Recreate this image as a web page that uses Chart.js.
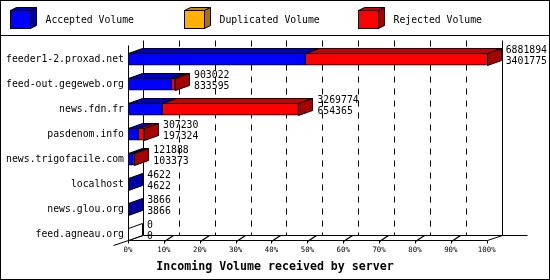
<!DOCTYPE html>
<html><head><meta charset="utf-8">
<script src="https://cdn.jsdelivr.net/npm/chart.js@4/dist/chart.umd.min.js"></script>
<style>html,body{margin:0;padding:0;background:#fff}canvas{display:block}</style>
</head><body>
<canvas id="c" width="550" height="280"></canvas>
<script>
// ---- data ----
const servers = ['feeder1-2.proxad.net','feed-out.gegeweb.org','news.fdn.fr','pasdenom.info','news.trigofacile.com','localhost','news.glou.org','feed.agneau.org'];
const totalVolume      = [6881894, 903022, 3269774, 307230, 121888, 4622, 3866, 0];
const acceptedVolume   = [3401775, 833595,  654365, 197324, 103373, 4622, 3866, 0];
const duplicatedVolume = [0, 0, 0, 0, 0, 0, 0, 0];
const seriesNames = ['Accepted Volume','Duplicated Volume','Rejected Volume'];
const xTickValues = [0,10,20,30,40,50,60,70,80,90,100];
const xTitle = 'Incoming Volume received by server';

// ---- derived (percent of the largest server) ----
const rejectedVolume = totalVolume.map((t,i)=>t-acceptedVolume[i]-duplicatedVolume[i]);
const maxTotal = Math.max(...totalVolume);
const pct = a => a.map(v => v / maxTotal * 100);
const seriesValues = [pct(acceptedVolume), pct(duplicatedVolume), pct(rejectedVolume)];

const colors = [
  {front:'#0000ff', top:'#0000c4', side:'#0000a4'},
  {front:'#ffb000', top:'#c88a00', side:'#a87400'},
  {front:'#ff0000', top:'#cc0000', side:'#a80000'}
];
const MONO = '"DejaVu Sans Mono","Liberation Mono",monospace';
const DX = 14, DY = 5;   // bar depth
const WX = 15, WY = 5;   // wall depth
const Y_MIN = -0.568, Y_MAX = 7.232;

function P(n){ return Math.round(n) + 0.5; }
function poly(ctx, pts, fill){
  ctx.beginPath(); ctx.moveTo(pts[0][0], pts[0][1]);
  for (let i=1;i<pts.length;i++) ctx.lineTo(pts[i][0], pts[i][1]);
  ctx.closePath();
  if (fill){ ctx.fillStyle = fill; ctx.fill(); }
  ctx.stroke();
}
function line(ctx, x1,y1,x2,y2){ ctx.beginPath(); ctx.moveTo(x1,y1); ctx.lineTo(x2,y2); ctx.stroke(); }

const frame3d = {
  id:'frame3d',
  beforeDatasetsDraw(chart){
    const {ctx, chartArea:a, scales:{x}} = chart;
    const L=P(a.left), R=P(a.right), T=P(a.top), B=P(a.bottom);
    ctx.save(); ctx.strokeStyle='#000'; ctx.lineWidth=1;
    ctx.setLineDash([6,6]);
    xTickValues.forEach(v=>{
      if (v<=0 || v>=100) return;
      const xp = P(x.getPixelForValue(v)) + WX;
      line(ctx, xp, T-WY, xp, B-WY);
    });
    ctx.setLineDash([]);
    line(ctx, L+WX, T-WY, L+WX, B-WY);
    line(ctx, R+WX, T-WY, R+WX, B-WY);
    line(ctx, L+WX, B-WY, R+WX+25, B-WY);
    line(ctx, L, T, L, B);
    line(ctx, L, B, R, B);
    line(ctx, L-15, B+5, L+WX, B-WY);
    line(ctx, R, B, R+WX, B-WY);
    xTickValues.forEach(v=>{
      const xp = P(x.getPixelForValue(v));
      line(ctx, xp, B, xp, B+3);
      if (v>0 && v<100){ ctx.lineWidth=1.4; line(ctx, xp, B+1, xp+9, B-5); ctx.lineWidth=1; }
    });
    ctx.restore();
  },
  afterDatasetsDraw(chart){
    const {ctx, scales:{x}} = chart;
    ctx.save(); ctx.strokeStyle='#000'; ctx.lineWidth=1;
    const metas = chart.data.datasets.map((d,k)=>chart.getDatasetMeta(k));
    servers.forEach((s,i)=>{
      let lastEl = null, lastK = -1;
      metas.forEach((m,k)=>{
        const p = m.data[i].getProps(['x','base','y','height'], true);
        const top = P(p.y - p.height/2), x0 = P(p.base), x1 = P(p.x);
        if (seriesValues[k][i] > 0 && x1 - x0 >= 1){
          poly(ctx, [[x0,top],[x1,top],[x1+DX,top-DY],[x0+DX,top-DY]], colors[k].top);
        }
        if (seriesValues[k][i] > 0){ lastEl = p; lastK = k; }
      });
      const ref = lastEl || metas[0].data[i].getProps(['x','base','y','height'], true);
      const top = P(ref.y - ref.height/2), bot = P(ref.y + ref.height/2), xe = P(ref.x);
      poly(ctx, [[xe,top],[xe,bot],[xe+DX,bot-DY],[xe+DX,top-DY]], lastK>=0 ? colors[lastK].side : '#ffffff');
      const endX = x.getPixelForValue(totalVolume[i]/maxTotal*100);
      ctx.fillStyle='#000'; ctx.font='9.8px '+MONO; ctx.textAlign='left'; ctx.textBaseline='middle';
      ctx.fillText(String(totalVolume[i]), endX + DX + 5, ref.y - 9);
      ctx.fillText(String(acceptedVolume[i]), endX + DX + 5, ref.y + 2);
    });
    ctx.restore();
  },
  afterDraw(chart){
    const ctx = chart.ctx;
    ctx.save(); ctx.strokeStyle='#000'; ctx.lineWidth=1;
    ctx.strokeRect(0.5,0.5,549,279);
    line(ctx, 0, 35.5, 550, 35.5);
    seriesNames.forEach((name,k)=>{
      const bx = Math.round(10 + k*173.8) + 0.5, by = 10.5, w = 20, h = 18, dx=6, dy=3;
      poly(ctx, [[bx,by],[bx+w,by],[bx+w+dx,by-dy],[bx+dx,by-dy]], colors[k].top);
      poly(ctx, [[bx+w,by],[bx+w,by+h],[bx+w+dx,by+h-dy],[bx+w+dx,by-dy]], colors[k].side);
      ctx.fillStyle = colors[k].front; ctx.fillRect(bx,by,w,h); ctx.strokeRect(bx,by,w,h);
      ctx.fillStyle='#000'; ctx.font='9.8px '+MONO; ctx.textAlign='left'; ctx.textBaseline='middle';
      ctx.fillText(name, bx + 35, 20);
    });
    ctx.font='bold 11.6px '+MONO; ctx.textAlign='center'; ctx.textBaseline='middle';
    ctx.fillText(xTitle, 275, 267);
    ctx.restore();
  }
};

new Chart(document.getElementById('c'), {
  type:'bar',
  data:{
    datasets: seriesNames.map((name,k)=>({
      label:name,
      data: seriesValues[k].map((v,i)=>({x:v, y:i})),
      backgroundColor: colors[k].front,
      borderColor:'#000', borderWidth:1, borderSkipped:false,
      barThickness:12
    }))
  },
  options:{
    indexAxis:'y', responsive:false, animation:false,
    layout:{padding:{top:45, right:63.3, left:0, bottom:0}},
    plugins:{legend:{display:false}, tooltip:{enabled:false}, title:{display:false}},
    scales:{
      x:{type:'linear', min:0, max:100, stacked:true, position:'bottom',
        afterBuildTicks:s=>{ s.ticks = xTickValues.map(v=>({value:v})); },
        afterFit:s=>{ s.height = 40; s.paddingLeft = 0; s.paddingRight = 0; },
        ticks:{callback:v=>v+'%', font:{family:MONO, size:7.4}, color:'#000', padding:6, maxRotation:0, autoSkip:false},
        grid:{display:false, drawTicks:false}, border:{display:false}},
      y:{type:'linear', reverse:true, min:Y_MIN, max:Y_MAX, stacked:true, offset:false, bounds:'data', grace:0,
        afterBuildTicks:s=>{ s.ticks = servers.map((_,i)=>({value:i})); s.min = Y_MIN; s.max = Y_MAX; },
        afterFit:s=>{ s.width = 128; s.paddingTop = 0; s.paddingBottom = 0; },
        ticks:{callback:v=>servers[v], font:{family:MONO, size:9.8}, color:'#000', padding:4, autoSkip:false},
        grid:{display:false, drawTicks:false}, border:{display:false}}
    }
  },
  plugins:[frame3d]
});
</script>
</body></html>
